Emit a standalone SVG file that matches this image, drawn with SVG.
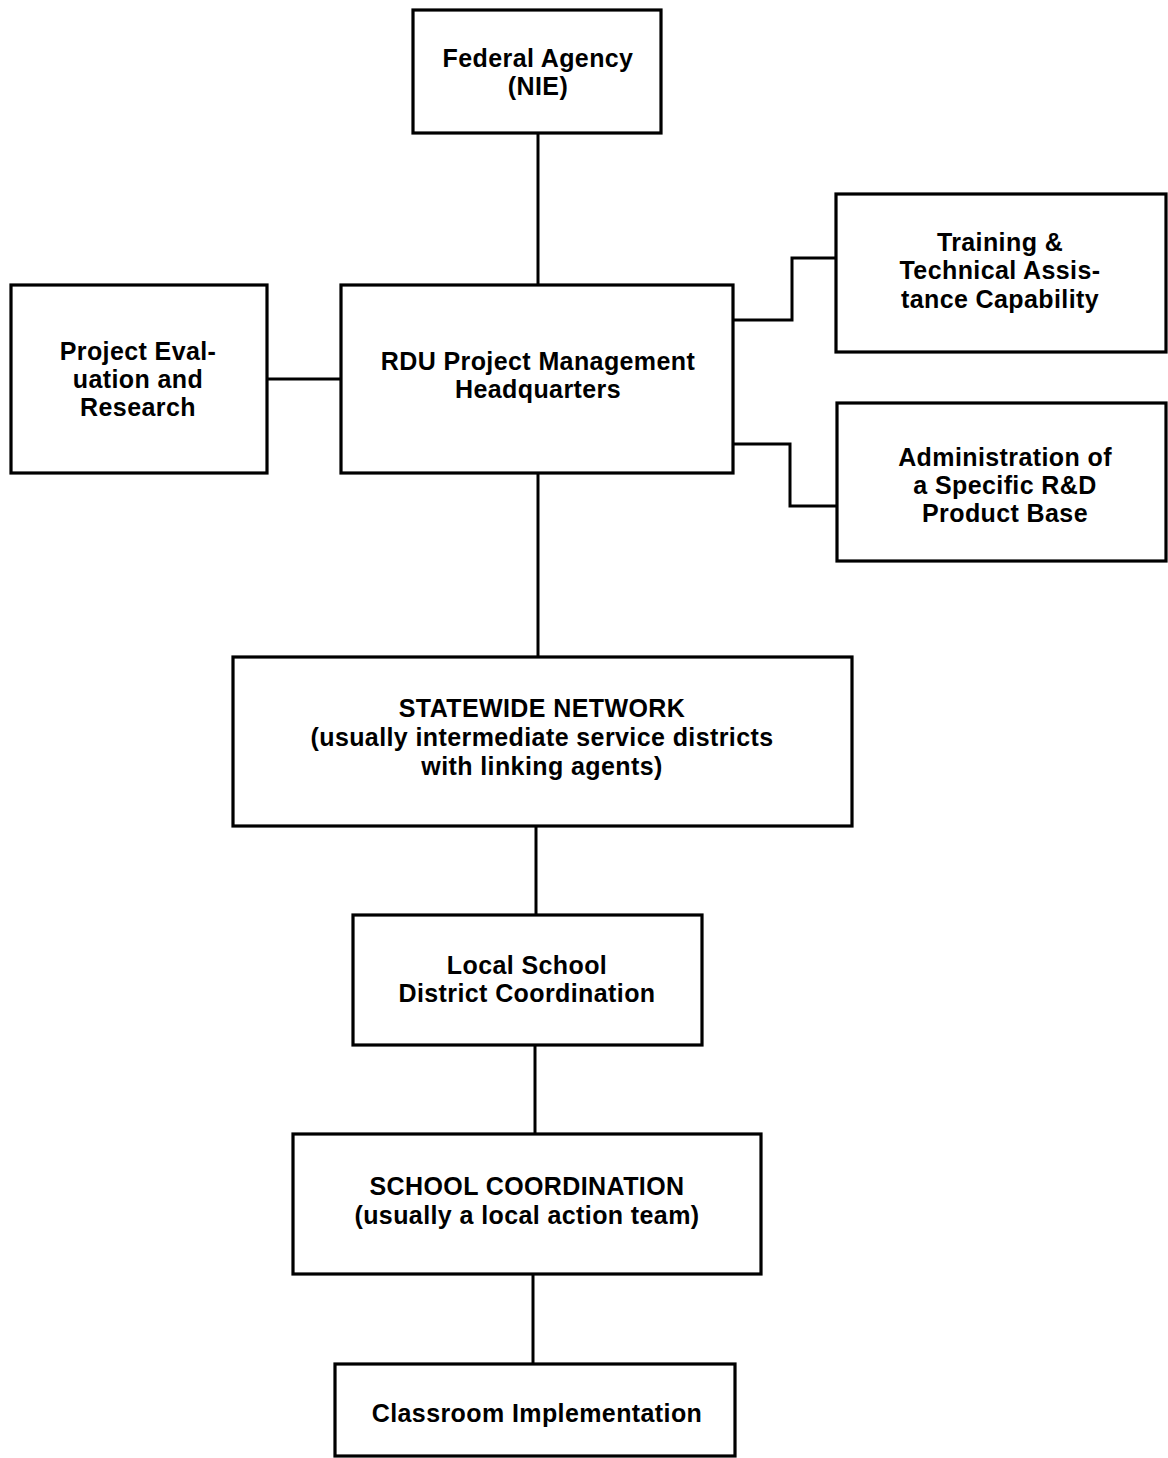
<svg xmlns="http://www.w3.org/2000/svg" width="1168" height="1458" viewBox="0 0 1168 1458">
<style>
.box{fill:#fff;stroke:#000;stroke-width:3.2}
.ln{fill:none;stroke:#000;stroke-width:3}
text{font-family:"Liberation Sans",Arial,Helvetica,sans-serif;font-weight:bold;font-size:25px;letter-spacing:0.4px;fill:#000;text-anchor:middle}
</style>
<rect width="1168" height="1458" fill="#fff"/>
<g id="connectors">
<line class="ln" x1="538" y1="133" x2="538" y2="286"/>
<line class="ln" x1="267" y1="379" x2="341" y2="379"/>
<polyline class="ln" points="733,320 792,320 792,258 836,258"/>
<polyline class="ln" points="733,444 790,444 790,506 837,506"/>
<line class="ln" x1="538" y1="473" x2="538" y2="657"/>
<line class="ln" x1="536" y1="826" x2="536" y2="915"/>
<line class="ln" x1="535" y1="1045" x2="535" y2="1134"/>
<line class="ln" x1="533" y1="1274" x2="533" y2="1364"/>
</g>
<g id="nie">
<rect class="box" x="413" y="10" width="248" height="123"/>
<text x="538" y="67">Federal Agency</text>
<text x="538" y="95">(NIE)</text>
</g>
<g id="training">
<rect class="box" x="836" y="194" width="330" height="158"/>
<text x="1000" y="251">Training &amp;</text>
<text x="1000" y="279">Technical Assis-</text>
<text x="1000" y="308">tance Capability</text>
</g>
<g id="evaluation">
<rect class="box" x="11" y="285" width="256" height="188"/>
<text x="138" y="360">Project Eval-</text>
<text x="138" y="388">uation and</text>
<text x="138" y="416">Research</text>
</g>
<g id="rdu">
<rect class="box" x="341" y="285" width="392" height="188"/>
<text x="538" y="370">RDU Project Management</text>
<text x="538" y="398">Headquarters</text>
</g>
<g id="admin">
<rect class="box" x="837" y="403" width="329" height="158"/>
<text x="1005" y="466">Administration of</text>
<text x="1005" y="494">a Specific R&amp;D</text>
<text x="1005" y="522">Product Base</text>
</g>
<g id="statewide">
<rect class="box" x="233" y="657" width="619" height="169"/>
<text x="542" y="717">STATEWIDE NETWORK</text>
<text x="542" y="746">(usually intermediate service districts</text>
<text x="542" y="775">with linking agents)</text>
</g>
<g id="local">
<rect class="box" x="353" y="915" width="349" height="130"/>
<text x="527" y="974">Local School</text>
<text x="527" y="1002">District Coordination</text>
</g>
<g id="school">
<rect class="box" x="293" y="1134" width="468" height="140"/>
<text x="527" y="1195">SCHOOL COORDINATION</text>
<text x="527" y="1224">(usually a local action team)</text>
</g>
<g id="classroom">
<rect class="box" x="335" y="1364" width="400" height="92"/>
<text x="537" y="1422">Classroom Implementation</text>
</g>
</svg>
